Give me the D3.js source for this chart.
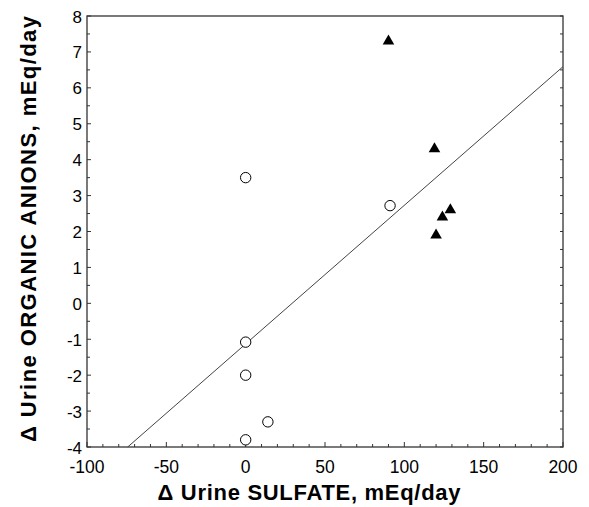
<!DOCTYPE html>
<html>
<head>
<meta charset="utf-8">
<script src="https://cdn.jsdelivr.net/npm/d3@7"></script>
<style>
  html, body { margin: 0; padding: 0; background: #fff; }
  svg text { font-family: "Liberation Sans", Arial, Helvetica, sans-serif; fill: #000; }
</style>
</head>
<body>
<svg id="chart" width="589" height="507"></svg>
<script>
// Open circles: change in urine sulfate vs change in urine organic anions
const circleSulfate = [0, 0, 0, 0, 14, 91];
const circleAnions  = [3.5, -1.08, -2.0, -3.8, -3.3, 2.72];

// Filled triangles
const triSulfate = [90, 119, 120, 124, 129];
const triAnions  = [7.3, 4.3, 1.9, 2.4, 2.6];

// Fitted regression line (anions = intercept + slope * sulfate)
const fitIntercept = -1.13;
const fitSlope = 0.0386;

// Axis ticks
const xTicks = [-100, -50, 0, 50, 100, 150, 200];
const yTicks = [-4, -3, -2, -1, 0, 1, 2, 3, 4, 5, 6, 7, 8];

const xLabel = "\u0394 Urine SULFATE, mEq/day";
const yLabel = "\u0394 Urine ORGANIC ANIONS, mEq/day";

const svg = d3.select("#chart");
const plotL = 87, plotR = 563, plotT = 16, plotB = 447;

const x = d3.scaleLinear().domain([-100, 200]).range([plotL, plotR]);
const y = d3.scaleLinear().domain([-4, 8]).range([plotB, plotT]);

// Minor ticks (inside the frame)
const xMinor = d3.range(-100, 201, 10);
const yMinor = d3.range(-4, 8.01, 0.5);

const g = svg.append("g");

// bottom axis ticks pointing up
g.selectAll(".xt").data(xMinor).join("line")
  .attr("x1", d => x(d)).attr("x2", d => x(d))
  .attr("y1", plotB).attr("y2", d => plotB - (d % 50 === 0 ? 5 : 3))
  .attr("stroke", "#333").attr("stroke-width", 1);

// left axis ticks pointing right
g.selectAll(".ytl").data(yMinor).join("line")
  .attr("y1", d => y(d)).attr("y2", d => y(d))
  .attr("x1", plotL).attr("x2", d => plotL + (Number.isInteger(d) ? 4 : 3))
  .attr("stroke", "#333").attr("stroke-width", 1);

// right axis ticks pointing left
g.selectAll(".ytr").data(yMinor).join("line")
  .attr("y1", d => y(d)).attr("y2", d => y(d))
  .attr("x1", plotR).attr("x2", plotR - 3)
  .attr("stroke", "#333").attr("stroke-width", 1);

// Frame
svg.append("rect")
  .attr("x", plotL).attr("y", plotT)
  .attr("width", plotR - plotL).attr("height", plotB - plotT)
  .attr("fill", "none").attr("stroke", "#333").attr("stroke-width", 1.3);

// Tick labels
svg.selectAll(".xl").data(xTicks).join("text")
  .attr("x", d => x(d)).attr("y", 472.5)
  .attr("text-anchor", "middle")
  .style("font-size", "17.5px")
  .text(d => d);

svg.selectAll(".yl").data(yTicks).join("text")
  .attr("x", 82).attr("y", d => y(d) + 6.5)
  .attr("text-anchor", "end")
  .style("font-size", "17px")
  .text(d => d);

// Regression line, from the bottom of the frame to the right edge
const xStart = (-4 - fitIntercept) / fitSlope;
const xEnd = 200;
svg.append("line")
  .attr("x1", x(xStart)).attr("y1", y(fitIntercept + fitSlope * xStart))
  .attr("x2", x(xEnd)).attr("y2", y(fitIntercept + fitSlope * xEnd))
  .attr("stroke", "#444").attr("stroke-width", 1);

// Open circles
svg.selectAll(".c").data(circleSulfate.map((s, i) => [s, circleAnions[i]])).join("circle")
  .attr("cx", d => x(d[0])).attr("cy", d => y(d[1]))
  .attr("r", 5.2)
  .attr("fill", "#fff").attr("stroke", "#000").attr("stroke-width", 1);

// Filled triangles
const tri = d3.symbol().type(d3.symbolTriangle).size(58);
svg.selectAll(".t").data(triSulfate.map((s, i) => [s, triAnions[i]])).join("path")
  .attr("transform", d => `translate(${x(d[0])},${y(d[1])})`)
  .attr("d", tri)
  .attr("fill", "#000");

// Axis titles
svg.append("text")
  .attr("x", 309).attr("y", 500)
  .attr("text-anchor", "middle")
  .attr("textLength", 303).attr("lengthAdjust", "spacing")
  .style("font-size", "22px").style("font-weight", "bold")
  .text(xLabel);

svg.append("text")
  .attr("transform", "translate(36,229) rotate(-90)")
  .attr("text-anchor", "middle")
  .attr("textLength", 426).attr("lengthAdjust", "spacing")
  .style("font-size", "22px").style("font-weight", "bold")
  .text(yLabel);
</script>
</body>
</html>
